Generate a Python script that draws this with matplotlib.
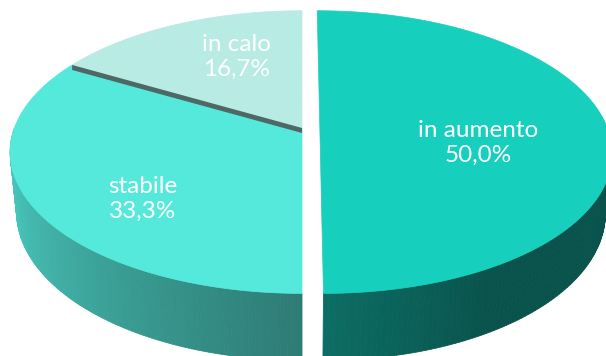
import numpy as np
import matplotlib
matplotlib.use("Agg")
import matplotlib.pyplot as plt
from matplotlib.collections import PolyCollection
from matplotlib.colors import to_rgb

labels = ["in aumento", "stabile", "in calo"]
values = [50.0, 33.3, 16.7]
top_colors = ["#17CFBD", "#55E9DC", "#B8EBE4"]
explode = [0.062, 0.0, 0.0]

# pixel canvas and camera for the tilted disc
W, H = 606, 356
elev = np.radians(28.5)
dist = 5.16
scale = 1484
cx, cy = 302, 128
thick = 0.24

label_xy = [(478, 143), (143, 199), (237, 57)]


def project(X, Y, Z):
    c, s = np.cos(elev), np.sin(elev)
    depth = dist + Y * c - Z * s
    sx = X / depth
    sy = (Y * s + Z * c) / depth
    return cx + scale * sx, cy - scale * sy


def wall_shade(phi):
    # light comes from the left: walls facing left are brighter
    phi = np.mod(phi, 360)
    return np.clip(0.87 - (phi - 192) * 0.00435, 0.40, 0.90)


fig = plt.figure(figsize=(W / 100, H / 100), dpi=100)
ax = fig.add_axes([0, 0, 1, 1])
ax.set_xlim(0, W)
ax.set_ylim(H, 0)
ax.axis("off")

total = sum(values)
bounds = 90 - np.cumsum([0] + values) / total * 360
slices = []
for i, v in enumerate(values):
    a1, a2 = bounds[i], bounds[i + 1]
    mid = np.radians((a1 + a2) / 2)
    ox, oy = explode[i] * np.cos(mid), explode[i] * np.sin(mid)
    slices.append((a1, a2, ox, oy))

# side walls (only the near half shows)
for i, (a1, a2, ox, oy) in enumerate(slices):
    base = np.array(to_rgb(top_colors[i]))
    ang = np.linspace(a2, a1, 200)
    quads, cols = [], []
    for p, q in zip(ang[:-1], ang[1:]):
        if np.sin(np.radians((p + q) / 2)) > 0:
            continue
        pts = []
        for a, z in ((p, 0), (q, 0), (q, -thick), (p, -thick)):
            r = np.radians(a)
            pts.append(project(np.cos(r) + ox, np.sin(r) + oy, z))
        quads.append(pts)
        cols.append(base * wall_shade((p + q) / 2))
    ax.add_collection(PolyCollection(quads, facecolors=cols, edgecolors=cols, linewidths=0.6))

# top faces
for i, (a1, a2, ox, oy) in enumerate(slices):
    ang = np.radians(np.linspace(a1, a2, 200))
    xs = np.concatenate([[ox], np.cos(ang) + ox])
    ys = np.concatenate([[oy], np.sin(ang) + oy])
    px, py = project(xs, ys, np.zeros_like(xs))
    ax.fill(px, py, color=top_colors[i], lw=0.5, ec=top_colors[i])

# edge of the small slice seen against the middle one
a = np.radians(slices[2][0])
x0, y0 = project(0, 0, 0)
x1, y1 = project(np.cos(a), np.sin(a), 0)
ax.fill([x1, x0, x0, x1], [y1, y0, y0 + 5, y1 + 5], color="#4E6965", lw=0)

for i, lab in enumerate(labels):
    txt = lab + "\n" + f"{values[i]:.1f}%".replace(".", ",")
    ax.text(label_xy[i][0], label_xy[i][1], txt, ha="center", va="center",
            color="white", fontsize=17.5, family="Lato", linespacing=1.2)

fig.savefig("out.png", dpi=100)
